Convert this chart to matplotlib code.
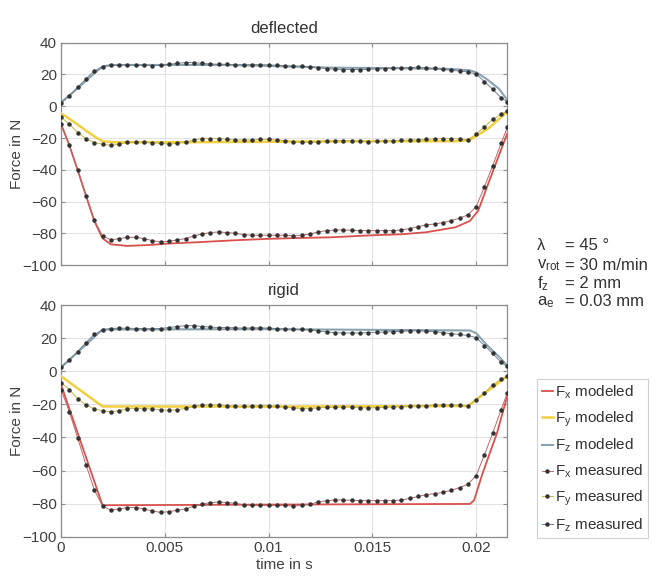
import matplotlib
matplotlib.use("Agg")
import matplotlib.pyplot as plt
from matplotlib.lines import Line2D

plt.rcParams['font.family'] = ['Liberation Sans', 'DejaVu Sans']
plt.rcParams['mathtext.fontset'] = 'custom'
plt.rcParams['mathtext.rm'] = 'Liberation Sans'
plt.rcParams['mathtext.it'] = 'Liberation Sans'

# ---------------- data ----------------
t_meas = [0.0, 0.0004, 0.0008, 0.0012, 0.0016, 0.002, 0.0024, 0.0028, 0.0032, 0.0036,
          0.004, 0.0044, 0.0048, 0.0052, 0.0056, 0.006, 0.0064, 0.0068, 0.0072, 0.0076,
          0.008, 0.0084, 0.0088, 0.0092, 0.0096, 0.01, 0.0104, 0.0108, 0.0112, 0.0116,
          0.012, 0.0124, 0.0128, 0.0132, 0.0136, 0.014, 0.0144, 0.0148, 0.0152, 0.0156,
          0.016, 0.0164, 0.0168, 0.0172, 0.0176, 0.018, 0.0184, 0.0188, 0.0192, 0.0196,
          0.02, 0.0204, 0.0208, 0.0212, 0.0215]

fx_meas = [-11.1, -24.5, -40.2, -56.4, -71.5, -81.5, -84.0, -83.2, -82.4, -82.4,
           -83.2, -84.5, -85.3, -84.9, -84.0, -83.2, -81.5, -80.3, -79.4, -79.0,
           -79.4, -79.9, -80.7, -81.1, -81.1, -81.1, -81.1, -81.1, -81.5, -81.1,
           -80.3, -79.0, -78.2, -77.8, -77.8, -78.0, -78.2, -78.2, -78.2, -78.2,
           -78.2, -77.8, -76.9, -75.7, -74.6, -74.0, -73.2, -71.9, -70.4, -68.3,
           -63.1, -50.5, -37.3, -23.3, -13.2]
fy_meas = [-6.9, -11.1, -16.6, -20.3, -22.8, -23.9, -24.5, -23.9, -22.6, -22.6,
           -22.6, -22.8, -23.3, -23.7, -23.3, -22.4, -21.2, -20.3, -20.3, -20.3,
           -20.8, -21.2, -21.2, -21.2, -20.8, -20.8, -21.2, -21.6, -22.2, -22.6,
           -22.6, -22.2, -21.8, -21.8, -21.6, -21.6, -22.0, -22.2, -22.0, -21.8,
           -21.6, -21.4, -21.2, -21.0, -20.8, -20.5, -20.3, -20.3, -20.5, -21.2,
           -17.4, -13.0, -8.2, -5.0, -2.9]
fz_meas = [2.3, 6.7, 11.9, 17.2, 22.2, 24.9, 25.8, 26.0, 26.0, 25.8,
           25.8, 25.6, 25.8, 26.4, 27.0, 27.5, 27.5, 27.0, 26.6, 26.4,
           26.4, 26.2, 26.0, 26.2, 26.2, 26.0, 25.8, 25.4, 25.2, 25.2,
           24.9, 24.3, 23.7, 23.3, 23.1, 23.1, 23.1, 23.3, 23.5, 23.7,
           23.9, 24.1, 24.3, 24.5, 24.1, 23.9, 23.3, 22.6, 22.2, 21.6,
           20.3, 15.5, 10.7, 5.4, 2.9]

# deflected model
t_fx_def = [0, 0.0004, 0.0008, 0.0012, 0.0016, 0.002, 0.0024, 0.0032, 0.0043, 0.0051,
            0.0067, 0.0083, 0.0099, 0.0115, 0.013, 0.015, 0.0164, 0.0176, 0.019, 0.0197,
            0.0201, 0.0206, 0.0215]
fx_def = [-11, -24.5, -40, -56, -72, -83, -86.8, -87.8, -87.2, -86.4,
          -85.4, -84.3, -83.4, -82.8, -82.4, -81.1, -80.5, -79.2, -76.1, -72.1,
          -65.6, -48.0, -17.0]
t_fy_def = [0, 0.0006, 0.0012, 0.0017, 0.002, 0.0025, 0.006, 0.01, 0.015, 0.019,
            0.0197, 0.02, 0.0206, 0.0215]
fy_def = [-4.4, -9.6, -15.3, -19.7, -22.0, -22.6, -22.6, -22.3, -22.0, -22.0,
          -21.2, -18.7, -13.8, -3.4]
t_fz_def = [0, 0.0006, 0.0012, 0.0017, 0.002, 0.0024, 0.008, 0.01, 0.013, 0.016,
            0.0188, 0.0197, 0.02, 0.0205, 0.0211, 0.0215]
fz_def = [2.3, 9.0, 16.0, 21.8, 25.0, 26.0, 26.0, 25.4, 24.3, 24.0,
          23.5, 22.6, 21.4, 17.2, 11.0, 4.0]

# rigid model
t_fx_rig = [0, 0.002, 0.01, 0.0197, 0.0199, 0.0203, 0.021, 0.0215]
fx_rig = [-8.0, -81.0, -80.6, -80.2, -78.0, -62.0, -37.5, -15.0]
t_fy_rig = [0, 0.002, 0.01, 0.0196, 0.0215]
fy_rig = [-3.0, -21.3, -21.4, -21.0, -3.0]
t_fz_rig = [0, 0.002, 0.01, 0.0197, 0.02, 0.0205, 0.021, 0.0215]
fz_rig = [2.3, 25.2, 25.4, 24.6, 23.0, 16.0, 10.0, 3.5]

x_ticks = [0, 0.005, 0.01, 0.015, 0.02]
x_tick_labels = ['0', '0.005', '0.01', '0.015', '0.02']
y_ticks = [-100, -80, -60, -40, -20, 0, 20, 40]

params = ['λ', r'v$_{\mathrm{rot}}$', r'f$_{\mathrm{z}}$', r'a$_{\mathrm{e}}$']
param_vals = ['= 45 °', '= 30 m/min', '= 2 mm', '= 0.03 mm']

# ---------------- style ----------------
c_fx, c_fy, c_fz = '#d9504c', '#f0d040', '#8aa3b0'
c_fx_m, c_fy_m, c_fz_m = '#b86a6a', '#c9b347', '#6f8594'
c_mark = '#333333'
txt = '#404040'
ms = 2.2

fig = plt.figure(figsize=(6.67, 5.76), dpi=100)
ax1 = fig.add_axes([61/667, 1-265.3/576, 446.3/667, 222.6/576])
ax2 = fig.add_axes([61/667, 1-536.7/576, 446.3/667, 231.7/576])


def draw(ax, mod, title):
    (tx, fx), (ty, fy), (tz, fz) = mod
    ax.plot(tx, fx, color=c_fx, lw=1.3, zorder=3)
    ax.plot(ty, fy, color=c_fy, lw=1.8, zorder=3)
    ax.plot(tz, fz, color=c_fz, lw=1.5, zorder=3)
    for vals, lc in ((fx_meas, c_fx_m), (fy_meas, c_fy_m), (fz_meas, c_fz_m)):
        ax.plot(t_meas, vals, color=lc, lw=0.7, marker='o', ms=ms,
                mfc=c_mark, mec=c_mark, zorder=4)
    ax.set_xlim(0, 0.0215)
    ax.set_ylim(-100, 40)
    ax.set_xticks(x_ticks)
    ax.set_yticks(y_ticks)
    ax.grid(True, color='#e3e3e3', lw=0.8, zorder=0)
    ax.set_axisbelow(True)
    for s in ax.spines.values():
        s.set_color('#8c8c8c')
        s.set_linewidth(0.9)
    ax.tick_params(direction='in', length=3, top=True, right=True,
                   color='#8c8c8c', labelcolor=txt, labelsize=11, pad=3)
    ax.set_ylabel('Force in N', fontsize=11, color=txt)
    ax.set_title(title, fontsize=12, color='#333333', pad=7)


draw(ax1, ((t_fx_def, fx_def), (t_fy_def, fy_def), (t_fz_def, fz_def)), 'deflected')
ax1.set_xticklabels([])
draw(ax2, ((t_fx_rig, fx_rig), (t_fy_rig, fy_rig), (t_fz_rig, fz_rig)), 'rigid')
ax2.set_xticklabels(x_tick_labels)
ax2.set_xlabel('time in s', fontsize=11, color=txt, labelpad=2)
ax1.yaxis.set_label_coords(-0.083, 0.5)
ax2.yaxis.set_label_coords(-0.083, 0.5)

# parameter block
ys = [246, 265, 284, 302]
for p, v, y in zip(params, param_vals, ys):
    fig.text(537/667, 1-y/576, p, fontsize=12, color='#333333', va='center', ha='left')
    fig.text(565/667, 1-y/576, v, fontsize=12, color='#333333', va='center', ha='left')

# legend
handles = [
    Line2D([], [], color=c_fx, lw=1.3),
    Line2D([], [], color=c_fy, lw=1.8),
    Line2D([], [], color=c_fz, lw=1.5),
    Line2D([], [], color=c_fx_m, lw=0.7, marker='o', ms=ms, mfc=c_mark, mec=c_mark),
    Line2D([], [], color=c_fy_m, lw=0.7, marker='o', ms=ms, mfc=c_mark, mec=c_mark),
    Line2D([], [], color=c_fz_m, lw=0.7, marker='o', ms=ms, mfc=c_mark, mec=c_mark),
]
labels = [r'F$_\mathrm{x}$ modeled', r'F$_\mathrm{y}$ modeled', r'F$_\mathrm{z}$ modeled',
          r'F$_\mathrm{x}$ measured', r'F$_\mathrm{y}$ measured', r'F$_\mathrm{z}$ measured']
leg = fig.legend(handles, labels, loc='upper left',
                 bbox_to_anchor=(537/667, 1-379/576), fontsize=11,
                 handlelength=0.75, handletextpad=0.15, labelspacing=0.55,
                 borderpad=0.3, borderaxespad=0, fancybox=False, framealpha=1,
                 edgecolor='#d0d0d0', labelcolor='#333333')
leg.get_frame().set_linewidth(0.8)

fig.savefig('out.png', dpi=100)
